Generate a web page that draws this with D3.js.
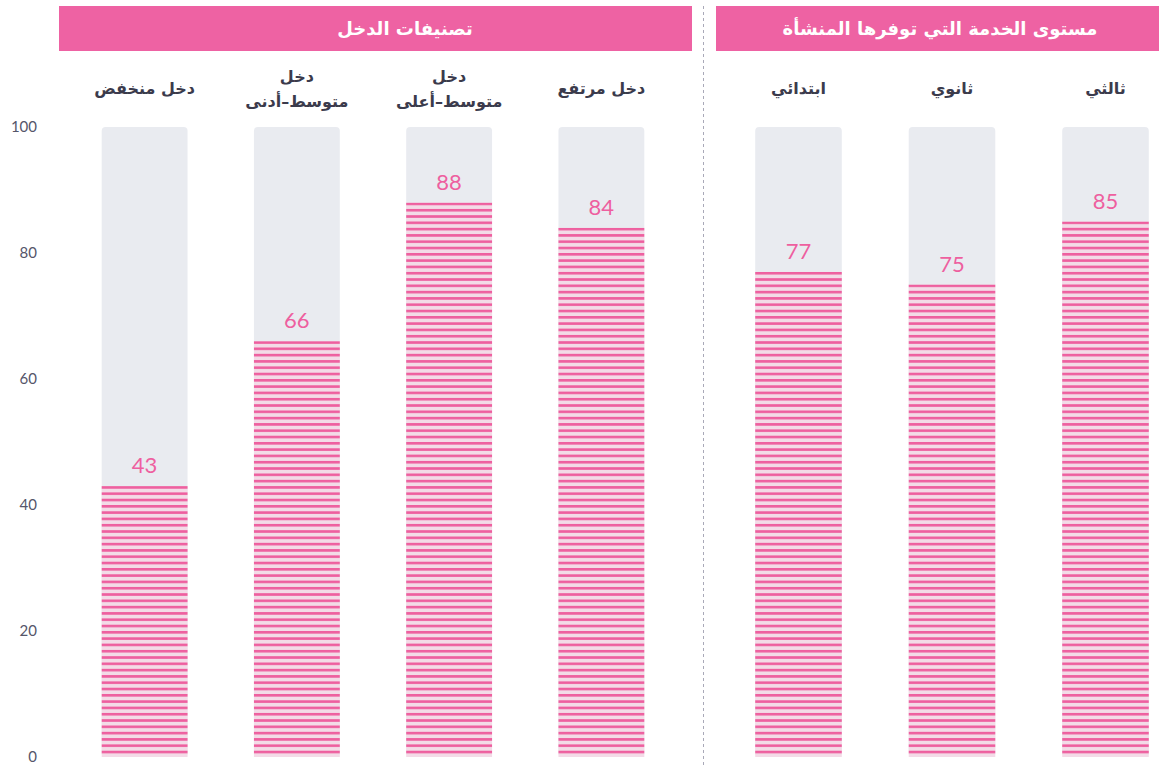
<!DOCTYPE html>
<html>
<head>
<meta charset="utf-8">
<script src="https://cdn.jsdelivr.net/npm/d3@7"></script>
<style>
  html, body { margin: 0; padding: 0; background: #fff; }
  svg { display: block; }
</style>
</head>
<body>
<div id="chart"></div>
<script>
// Data
const incomeGroups = [
  ["دخل منخفض"],
  ["دخل", "متوسط–أدنى"],
  ["دخل", "متوسط–أعلى"],
  ["دخل مرتفع"]
];
const incomeValues = [43, 66, 88, 84];

const serviceLevels = [["ابتدائي"], ["ثانوي"], ["ثالثي"]];
const serviceValues = [77, 75, 85];

const panelTitles = ["تصنيفات الدخل", "مستوى الخدمة التي توفرها المنشأة"];
const yTicks = [0, 20, 40, 60, 80, 100];

const width = 1159, height = 765;
const pink = "#ee5f9f";
const barBg = "#e9ebf0";
const labelFont = "'DejaVu Sans', Arial, sans-serif";

const svg = d3.select("#chart")
  .append("svg")
  .attr("width", width)
  .attr("height", height);

// Y scale
const yScale = d3.scaleLinear()
  .domain([0, 100])
  .range([757, 127]);

// Stripe pattern: one stripe per unit
const unit = yScale(0) - yScale(1);
const pattern = svg.append("defs")
  .append("pattern")
  .attr("id", "stripes")
  .attr("patternUnits", "userSpaceOnUse")
  .attr("x", 0)
  .attr("y", yScale(100))
  .attr("width", 20)
  .attr("height", unit);
pattern.append("rect")
  .attr("width", 20)
  .attr("height", unit)
  .attr("fill", "#f3dbe7");
pattern.append("rect")
  .attr("width", 20)
  .attr("height", 2.6)
  .attr("fill", pink);

// Y axis labels
svg.append("g")
  .selectAll("text")
  .data(yTicks)
  .join("text")
  .attr("x", 37)
  .attr("y", d => yScale(d))
  .attr("dy", "0.35em")
  .attr("text-anchor", "end")
  .attr("font-family", "Lato, 'Open Sans', sans-serif")
  .attr("font-size", "15px")
  .attr("fill", "#55566a")
  .text(d => d);

// Panels
const panels = [
  { title: panelTitles[0], titleX: 405, cats: incomeGroups, values: incomeValues, range: [68.5, 677.5], band: [59, 692] },
  { title: panelTitles[1], titleX: 940, cats: serviceLevels, values: serviceValues, range: [721.75, 1182.25], band: [716, 1170] }
];

panels.forEach(p => {
  const keys = p.cats.map(c => c.join(" "));
  const xScale = d3.scaleBand()
    .domain(keys)
    .range(p.range)
    .paddingInner(0.436)
    .paddingOuter(0.218);

  const g = svg.append("g");

  // Header band
  g.append("rect")
    .attr("x", p.band[0])
    .attr("y", 6)
    .attr("width", p.band[1] - p.band[0])
    .attr("height", 45)
    .attr("fill", "#ee62a3");

  g.append("text")
    .attr("x", p.titleX)
    .attr("y", 28.5)
    .attr("dy", "0.35em")
    .attr("text-anchor", "middle")
    .attr("font-family", labelFont)
    .attr("font-weight", "bold")
    .attr("font-size", "18px")
    .attr("fill", "#fff")
    .text(p.title);

  const data = p.cats.map((c, i) => ({ key: keys[i], lines: c, value: p.values[i] }));

  // Category labels
  g.selectAll(".cat")
    .data(data)
    .join("text")
    .attr("class", "cat")
    .attr("x", d => xScale(d.key) + xScale.bandwidth() / 2)
    .attr("y", d => d.lines.length === 1 ? 88 : 76)
    .attr("text-anchor", "middle")
    .attr("font-family", labelFont)
    .attr("font-weight", "bold")
    .attr("font-size", "16px")
    .attr("fill", "#3b3b4c")
    .selectAll("tspan")
    .data(d => d.lines.map((l, i) => ({ l, i, x: xScale(d.key) + xScale.bandwidth() / 2 })))
    .join("tspan")
    .attr("x", t => t.x)
    .attr("dy", t => t.i === 0 ? "0.35em" : "25px")
    .text(t => t.l);

  // Background bars
  g.selectAll(".bg")
    .data(data)
    .join("rect")
    .attr("class", "bg")
    .attr("x", d => xScale(d.key))
    .attr("y", yScale(100))
    .attr("width", xScale.bandwidth())
    .attr("height", yScale(0) - yScale(100))
    .attr("rx", 4)
    .attr("fill", barBg);

  // Value bars
  g.selectAll(".bar")
    .data(data)
    .join("rect")
    .attr("class", "bar")
    .attr("x", d => xScale(d.key))
    .attr("y", d => yScale(d.value))
    .attr("width", xScale.bandwidth())
    .attr("height", d => yScale(0) - yScale(d.value))
    .attr("fill", "url(#stripes)");

  // Value labels
  g.selectAll(".val")
    .data(data)
    .join("text")
    .attr("class", "val")
    .attr("x", d => xScale(d.key) + xScale.bandwidth() / 2)
    .attr("y", d => yScale(d.value) - 13)
    .attr("text-anchor", "middle")
    .attr("font-family", "Lato, 'Open Sans', sans-serif")
    .attr("font-size", "22px")
    .attr("fill", pink)
    .text(d => d.value);
});

// Divider
svg.append("line")
  .attr("x1", 703.5)
  .attr("x2", 703.5)
  .attr("y1", 6)
  .attr("y2", height)
  .attr("stroke", "#a9a9b8")
  .attr("stroke-width", 1)
  .attr("stroke-dasharray", "3,3");
</script>
</body>
</html>
